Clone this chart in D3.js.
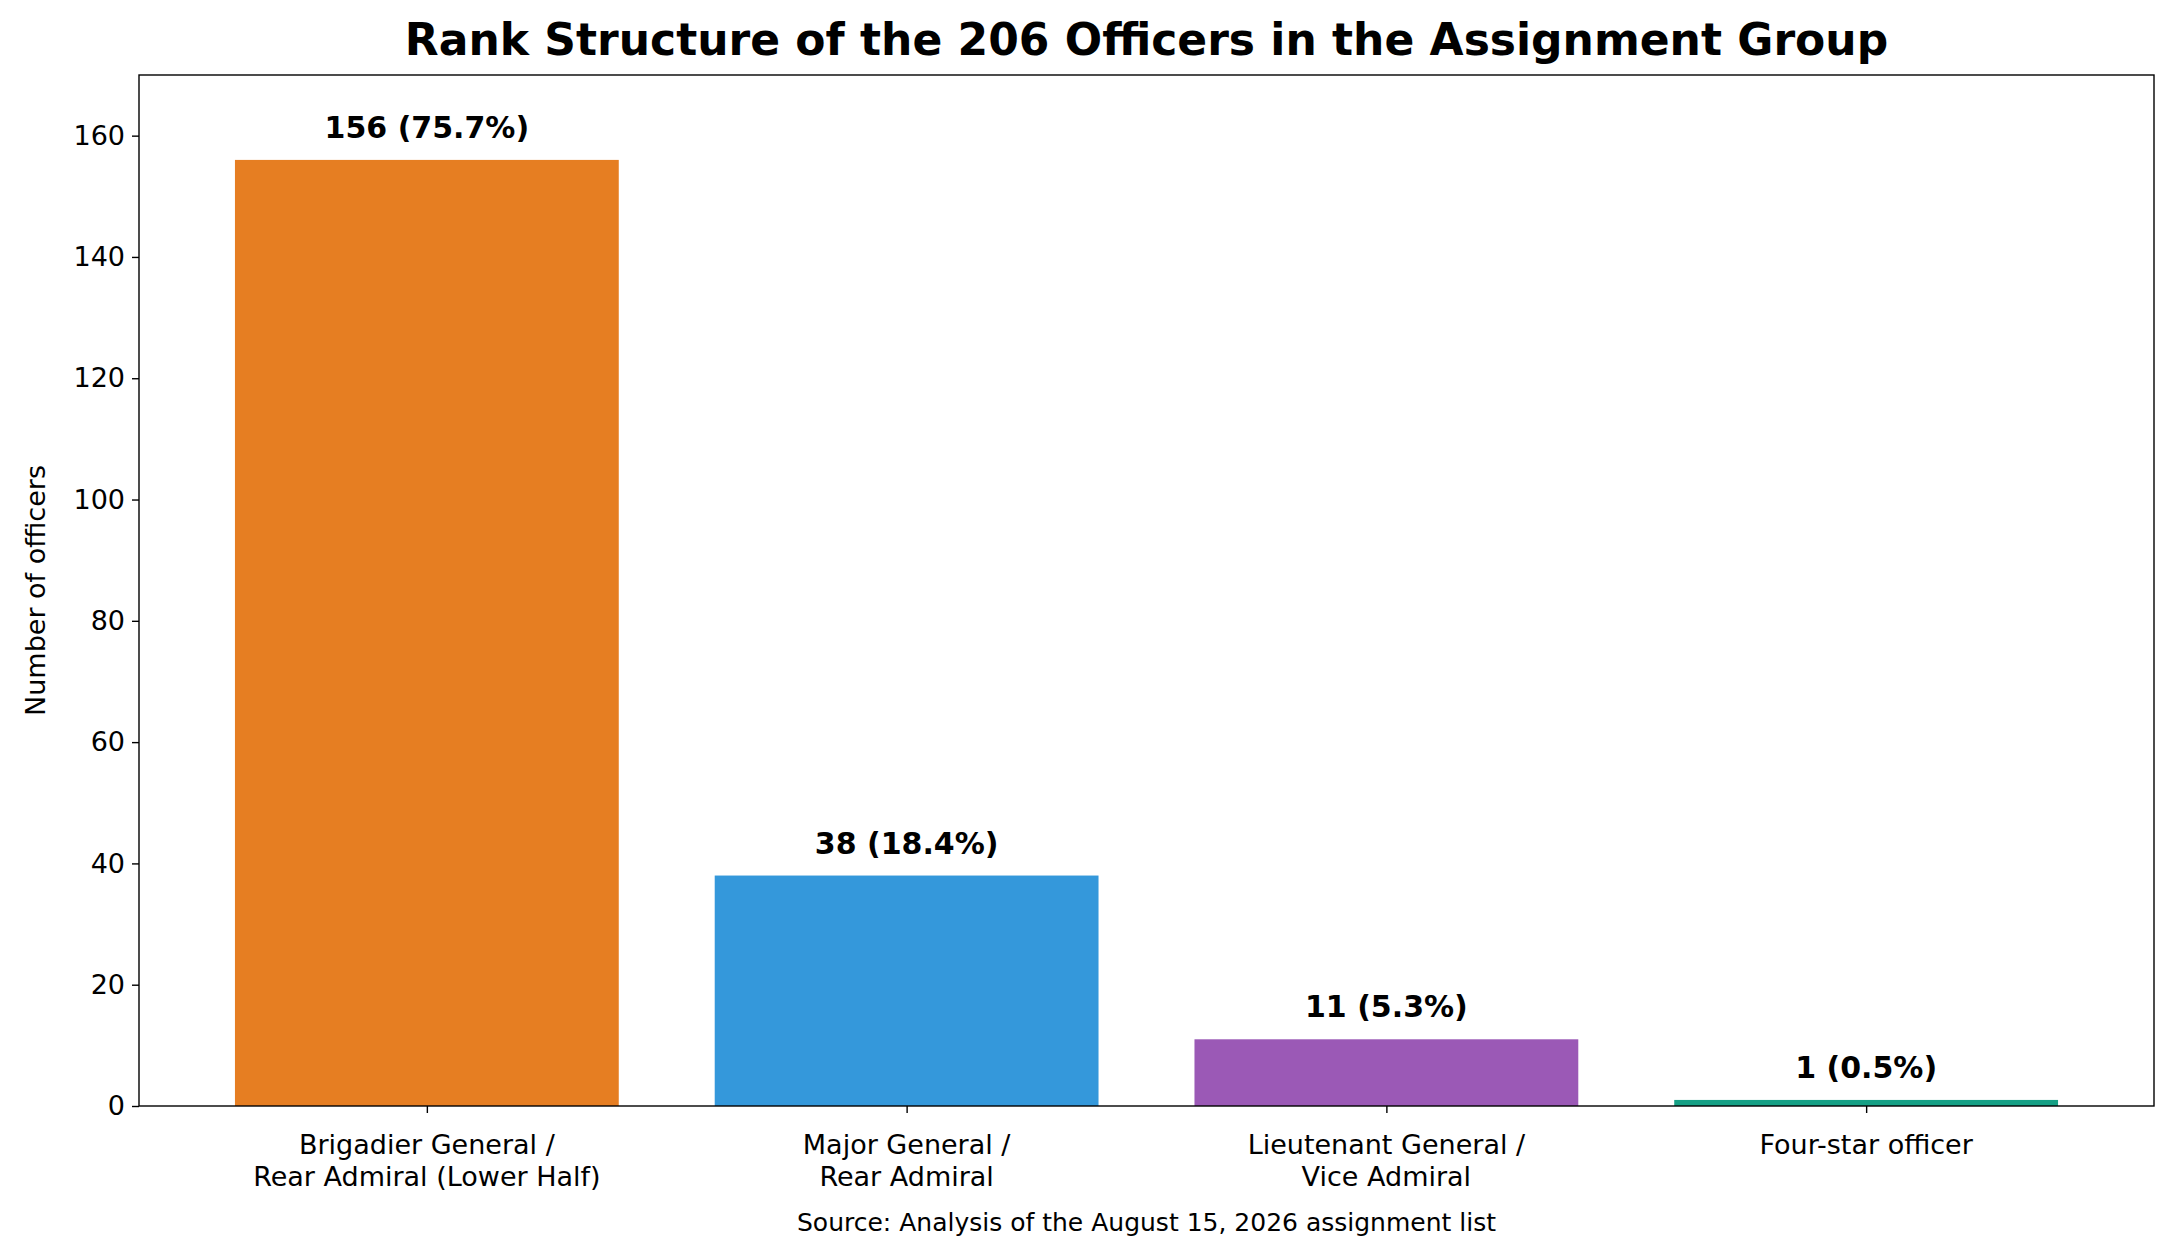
<!DOCTYPE html><html><head><meta charset="utf-8"><script src="https://cdn.jsdelivr.net/npm/d3@7"></script>
<style>body{margin:0;background:#fff}text{font-family:"DejaVu Sans",sans-serif}</style></head><body>
<svg id="c" width="2176" height="1259"></svg>
<script>
const categories=[["Brigadier General /","Rear Admiral (Lower Half)"],["Major General /","Rear Admiral"],["Lieutenant General /","Vice Admiral"],["Four-star officer"]];
const values=[156,38,11,1];
const labels=["156 (75.7%)","38 (18.4%)","11 (5.3%)","1 (0.5%)"];
const colors=["#e67e22","#3498db","#9b59b6","#16a085"];
const yTicks=[0,20,40,60,80,100,120,140,160];
const svg=d3.select("#c");
const L=139,R=2154,T=75,B=1106;
const x=d3.scaleLinear().domain([-0.6,3.6]).range([L,R]);
const y=d3.scaleLinear().domain([0,170]).range([B,T]);
const bw=x(0.4)-x(-0.4);
svg.selectAll("rect.b").data(values).join("rect").attr("x",(d,i)=>x(i)-bw/2).attr("y",d=>y(d)).attr("width",bw).attr("height",d=>B-y(d)).attr("fill",(d,i)=>colors[i]);
svg.selectAll("text.v").data(values).join("text").attr("x",(d,i)=>x(i)).attr("y",d=>y(d+3.6)).attr("text-anchor","middle").attr("font-size",30).attr("font-weight","bold").text((d,i)=>labels[i]);
const ya=svg.append("g").attr("transform",`translate(${L},0)`).call(d3.axisLeft(y).tickValues(yTicks).tickSize(7).tickPadding(7));
const xa=svg.append("g").attr("transform",`translate(0,${B})`).call(d3.axisBottom(x).tickValues([0,1,2,3]).tickFormat("").tickSize(7));
[ya,xa].forEach(a=>{a.select(".domain").remove();a.selectAll("line").attr("stroke","#000").attr("stroke-width",1.4);a.selectAll("text").attr("font-size",27).attr("fill","#000").attr("font-family","DejaVu Sans")});
svg.append("rect").attr("x",L).attr("y",T).attr("width",R-L).attr("height",B-T).attr("fill","none").attr("stroke","#000").attr("stroke-width",1.4);
categories.forEach((c,i)=>{c.forEach((s,j)=>svg.append("text").attr("x",x(i)).attr("y",1154+j*32).attr("text-anchor","middle").attr("font-size",27).text(s));});
svg.append("text").attr("x",(L+R)/2).attr("y",55).attr("text-anchor","middle").attr("font-size",44).attr("font-weight","bold").text("Rank Structure of the 206 Officers in the Assignment Group");
svg.append("text").attr("transform",`translate(45,${(T+B)/2}) rotate(-90)`).attr("text-anchor","middle").attr("font-size",27).text("Number of officers");
svg.append("text").attr("x",(L+R)/2).attr("y",1231).attr("text-anchor","middle").attr("font-size",25).text("Source: Analysis of the August 15, 2026 assignment list");
</script></body></html>
